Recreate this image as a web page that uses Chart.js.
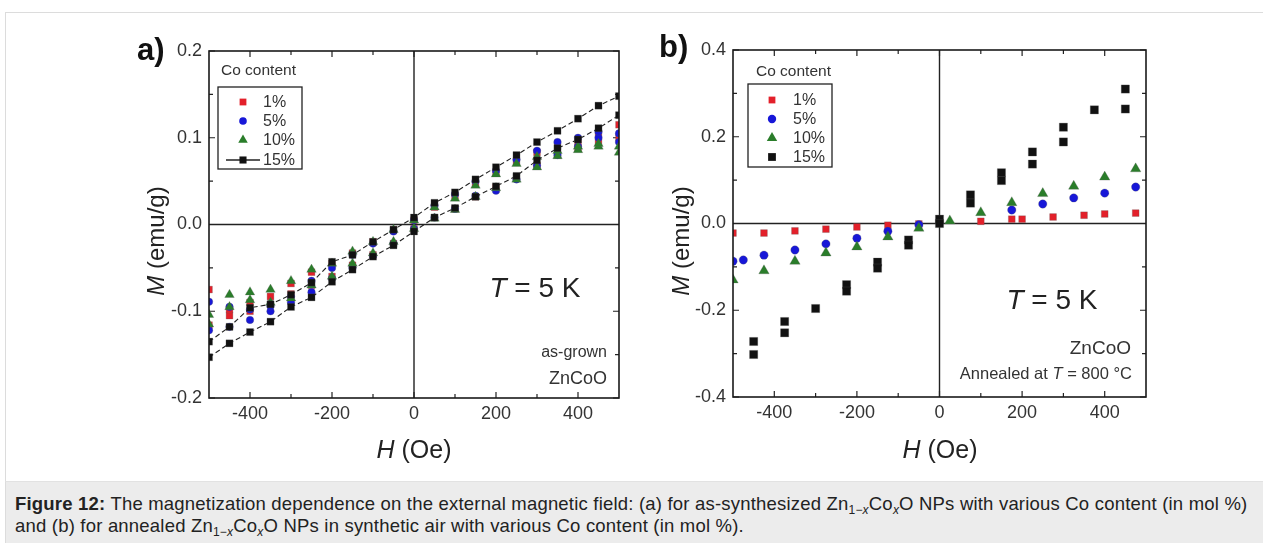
<!DOCTYPE html>
<html><head><meta charset="utf-8">
<script src="https://cdn.jsdelivr.net/npm/chart.js@4.4.0/dist/chart.umd.min.js"></script>
<style>
html,body{margin:0;padding:0;background:#fff;}
body{width:1263px;height:543px;position:relative;overflow:hidden;font-family:"Liberation Sans",Arial,sans-serif;color:#222;}
#frame{position:absolute;left:5px;top:12px;width:1270px;height:540px;border:1px solid #dcdcdc;}
#capbox{position:absolute;left:5px;top:481px;width:1270px;height:70px;background:#ececec;border-left:1px solid #dcdcdc;border-top:1px solid #e2e2e2;}
canvas{position:absolute;top:0;}
.t{position:absolute;white-space:nowrap;line-height:1;}
.rot{transform:translate(-50%,-50%) rotate(-90deg);}
.ctr{transform:translate(-50%,-50%);}
.rgt{transform:translate(-100%,-50%);}
sub{font-size:12px;vertical-align:-4px;line-height:0;}
</style></head><body>
<div id="frame"></div>
<div id="capbox"></div>
<canvas id="ca" width="640" height="470" style="left:0px;width:640px;height:470px"></canvas>
<canvas id="cb" width="623" height="470" style="left:640px;width:623px;height:470px"></canvas>

<div class="t" style="left:137px;top:34px;font-size:31px;font-weight:bold;color:#111">a)</div>
<div class="t" style="left:659px;top:31px;font-size:31px;font-weight:bold;color:#111">b)</div>

<div class="t rot" style="left:156px;top:241px;font-size:24px;color:#222"><i>M</i> (emu/g)</div>
<div class="t rot" style="left:681px;top:241px;font-size:24px;color:#222"><i>M</i> (emu/g)</div>
<div class="t ctr" style="left:414px;top:449px;font-size:25px;color:#222"><i>H</i> (Oe)</div>
<div class="t ctr" style="left:940px;top:449px;font-size:25px;color:#222"><i>H</i> (Oe)</div>

<div class="t ctr" style="left:535px;top:288px;font-size:28px;color:#222"><i>T</i> = 5 K</div>
<div class="t rgt" style="left:607px;top:352px;font-size:16px;color:#333">as-grown</div>
<div class="t rgt" style="left:607px;top:378px;font-size:18px;color:#333">ZnCoO</div>

<div class="t ctr" style="left:1052px;top:300px;font-size:28px;color:#222"><i>T</i> = 5 K</div>
<div class="t rgt" style="left:1131px;top:347px;font-size:19px;color:#333">ZnCoO</div>
<div class="t rgt" style="left:1132px;top:373px;font-size:16.5px;color:#333">Annealed at <i>T</i> = 800 °C</div>

<div class="t" style="left:15px;top:493px;font-size:18.5px;letter-spacing:0.2px;line-height:22px;color:#222">
<b>Figure 12:</b> The magnetization dependence on the external magnetic field: (a) for as-synthesized Zn<sub>1−<i>x</i></sub>Co<sub><i>x</i></sub>O NPs with various Co content (in mol %)<br>and (b) for annealed Zn<sub>1−<i>x</i></sub>Co<sub><i>x</i></sub>O NPs in synthetic air with various Co content (in mol %).
</div>

<script>
// ---------- DATA ----------
const SERIES_NAMES = ['1%', '5%', '10%', '15%'];
const LEGEND_TITLE = 'Co content';

// Panel a (as-grown): field values and two sweep branches per Co content
const H_A = [-500,-450,-400,-350,-300,-250,-200,-150,-100,-50,0,50,100,150,200,250,300,350,400,450,500];
const A1_UP  = [-0.075,-0.098,-0.090,-0.083,-0.068,-0.055,-0.045,-0.033,-0.020,-0.006,0.005,0.020,0.033,0.047,0.060,0.072,0.083,0.090,0.095,0.105,0.115];
const A1_DN  = [-0.116,-0.105,-0.100,-0.092,-0.080,-0.070,-0.060,-0.047,-0.035,-0.022,-0.005,0.008,0.018,0.032,0.043,0.055,0.068,0.080,0.088,0.095,0.100];
const A5_UP  = [-0.089,-0.095,-0.098,-0.094,-0.083,-0.065,-0.050,-0.035,-0.022,-0.008,0.005,0.022,0.035,0.050,0.062,0.075,0.085,0.095,0.100,0.107,0.105];
const A5_DN  = [-0.122,-0.118,-0.110,-0.100,-0.090,-0.078,-0.062,-0.050,-0.036,-0.022,-0.005,0.008,0.018,0.033,0.039,0.052,0.068,0.080,0.090,0.100,0.095];
const A10_UP = [-0.104,-0.081,-0.078,-0.075,-0.065,-0.052,-0.045,-0.031,-0.020,-0.006,0.005,0.020,0.030,0.045,0.058,0.070,0.078,0.085,0.090,0.093,0.090];
const A10_DN = [-0.115,-0.095,-0.087,-0.090,-0.085,-0.070,-0.060,-0.045,-0.033,-0.020,-0.005,0.007,0.017,0.032,0.042,0.052,0.066,0.079,0.086,0.090,0.083];
const A15_UP = [-0.135,-0.118,-0.096,-0.092,-0.081,-0.067,-0.043,-0.035,-0.020,-0.006,0.008,0.025,0.037,0.052,0.066,0.080,0.095,0.108,0.122,0.137,0.148];
const A15_DN = [-0.153,-0.137,-0.124,-0.112,-0.095,-0.084,-0.066,-0.052,-0.037,-0.024,-0.008,0.008,0.019,0.032,0.044,0.056,0.074,0.088,0.098,0.111,0.126];

// Panel b (annealed)
const B1_H  = [-500,-425,-350,-275,-200,-125,-50,100,175,200,275,350,400,475];
const B1_M  = [-0.022,-0.022,-0.017,-0.013,-0.008,-0.004,-0.001,0.005,0.010,0.010,0.015,0.019,0.022,0.024];
const B5_H  = [-500,-475,-425,-350,-275,-200,-125,-50,175,250,325,400,475];
const B5_M  = [-0.087,-0.084,-0.073,-0.061,-0.047,-0.034,-0.018,-0.003,0.031,0.045,0.059,0.070,0.084];
const B10_H = [-500,-425,-350,-275,-200,-125,-50,25,100,175,250,325,400,475];
const B10_M = [-0.130,-0.109,-0.087,-0.068,-0.054,-0.031,-0.011,0.006,0.025,0.048,0.069,0.086,0.107,0.126];
const B15_H = [-450,-450,-375,-375,-300,-225,-225,-150,-150,-75,-75,0,0,75,75,150,150,225,225,300,300,375,450,450];
const B15_M = [-0.272,-0.302,-0.226,-0.252,-0.196,-0.141,-0.156,-0.089,-0.103,-0.038,-0.050,0.010,0.000,0.066,0.047,0.117,0.099,0.165,0.137,0.222,0.188,0.262,0.310,0.264];

// Axis ticks
const X_TICKS = [-400,-200,0,200,400];
const X_MINOR = [-300,-100,100,300];
const Y_TICKS_A = [-0.2,-0.1,0.0,0.1,0.2];
const Y_MINOR_A = [-0.15,-0.05,0.05,0.15];
const Y_TICKS_B = [-0.4,-0.2,0.0,0.2,0.4];
const Y_MINOR_B = [-0.3,-0.1,0.1,0.3];

// ---------- STYLE ----------
const COLORS = ['#e3202a','#1717d8','#2a7d2a','#111111'];
const SHAPES = ['rect','circle','triangle','rect'];
const FONT = '"Liberation Sans", Arial, sans-serif';

function pts(xs, ys){ return xs.map((x,i)=>({x:x, y:ys[i]})); }

function ds(label, data, k, radius, order, line){
  return {
    label, data, order,
    pointStyle: SHAPES[k], pointRadius: radius, pointHoverRadius: radius,
    backgroundColor: COLORS[k], borderColor: line ? '#222' : COLORS[k],
    pointBorderColor: 'rgba(90,90,90,0.45)', pointBackgroundColor: COLORS[k], pointBorderWidth: 0.6,
    showLine: !!line, borderWidth: line ? 1.1 : 0, borderDash: line ? [5,3] : [],
    clip: 0
  };
}

const decoPlugin = {
  id: 'deco',
  beforeDatasetsDraw(chart, args, o){
    const {ctx, chartArea: a, scales: {x, y}} = chart;
    ctx.save();
    ctx.strokeStyle = '#222'; ctx.lineWidth = 1.4;
    const x0 = x.getPixelForValue(0), y0 = y.getPixelForValue(0);
    ctx.beginPath();
    ctx.moveTo(a.left, y0); ctx.lineTo(a.right, y0);
    ctx.moveTo(x0, a.top); ctx.lineTo(x0, a.bottom);
    ctx.stroke();
    ctx.lineWidth = 1.2;
    ctx.beginPath();
    const tick = (vals, len) => {
      vals.forEach(v => {
        const px = x.getPixelForValue(v);
        ctx.moveTo(px, a.bottom); ctx.lineTo(px, a.bottom - len);
        ctx.moveTo(px, a.top); ctx.lineTo(px, a.top + len);
      });
    };
    const ytick = (vals, len) => {
      vals.forEach(v => {
        const py = y.getPixelForValue(v);
        ctx.moveTo(a.left, py); ctx.lineTo(a.left + len, py);
        ctx.moveTo(a.right, py); ctx.lineTo(a.right - len, py);
      });
    };
    tick(X_TICKS, 6); tick(X_MINOR, 4);
    ytick(o.yMajor, 6); ytick(o.yMinor, 4);
    ctx.stroke();
    ctx.restore();
  },
  afterDatasetsDraw(chart){
    const {ctx, chartArea: a} = chart;
    ctx.save();
    ctx.strokeStyle = '#1a1a1a'; ctx.lineWidth = 1.6;
    ctx.strokeRect(a.left, a.top, a.right - a.left, a.bottom - a.top);
    ctx.restore();
  }
};

function drawMarker(ctx, shape, cx, cy, r, color){
  ctx.fillStyle = color;
  ctx.beginPath();
  if (shape === 'rect'){ const s = Math.SQRT1_2 * r; ctx.rect(cx - s, cy - s, 2*s, 2*s); }
  else if (shape === 'circle'){ ctx.arc(cx, cy, r, 0, Math.PI*2); }
  else { // triangle
    let rad = 0;
    ctx.moveTo(cx + Math.sin(rad)*r, cy - Math.cos(rad)*r); rad += 2*Math.PI/3;
    ctx.lineTo(cx + Math.sin(rad)*r, cy - Math.cos(rad)*r); rad += 2*Math.PI/3;
    ctx.lineTo(cx + Math.sin(rad)*r, cy - Math.cos(rad)*r);
    ctx.closePath();
  }
  ctx.fill();
}

const legendPlugin = {
  id: 'boxLegend',
  afterDraw(chart, args, o){
    const ctx = chart.ctx;
    ctx.save();
    ctx.fillStyle = '#333';
    ctx.font = '15.5px ' + FONT;
    ctx.textBaseline = 'middle'; ctx.textAlign = 'left';
    ctx.fillText(LEGEND_TITLE, o.titleX, o.titleY);
    ctx.strokeStyle = '#222'; ctx.lineWidth = 1.3;
    ctx.strokeRect(o.box[0], o.box[1], o.box[2]-o.box[0], o.box[3]-o.box[1]);
    SERIES_NAMES.forEach((name, k) => {
      const yy = o.rows[k];
      if (o.lineFor === k){
        ctx.strokeStyle = '#222'; ctx.lineWidth = 1.3;
        ctx.beginPath(); ctx.moveTo(o.markerX - 17, yy); ctx.lineTo(o.markerX + 17, yy); ctx.stroke();
      }
      drawMarker(ctx, SHAPES[k], o.markerX, yy, o.radius[k], COLORS[k]);
      ctx.fillStyle = '#333';
      ctx.font = '16px ' + FONT;
      ctx.fillText(name, o.textX, yy + 1);
    });
    ctx.restore();
  }
};

function scalesFor(yMin, yMax, yTicks, yWidth, xHeight, yPad){
  return {
    x: {
      type: 'linear', min: -500, max: 500,
      afterBuildTicks: s => { s.ticks = X_TICKS.map(v => ({value: v})); },
      ticks: { font: {family: FONT, size: 18}, color: '#333', padding: 5, maxRotation: 0, callback: v => String(v) },
      grid: { display: false, drawTicks: false }, border: { display: false },
      afterFit: s => { s.height = xHeight; }
    },
    y: {
      type: 'linear', min: yMin, max: yMax,
      afterBuildTicks: s => { s.ticks = yTicks.map(v => ({value: v})); },
      ticks: { font: {family: FONT, size: 18}, color: '#333', padding: yPad, callback: v => Number(v).toFixed(1) },
      grid: { display: false, drawTicks: false }, border: { display: false },
      afterFit: s => { s.width = yWidth; }
    }
  };
}

Chart.defaults.font.family = FONT;

new Chart(document.getElementById('ca'), {
  type: 'scatter',
  data: { datasets: [
    ds('15%', pts(H_A, A15_UP), 3, 5, 0, true),
    ds('15%', pts(H_A, A15_DN), 3, 5, 0, true),
    ds('10%', pts(H_A, A10_UP), 2, 5.5, 1, false),
    ds('10%', pts(H_A, A10_DN), 2, 5.5, 1, false),
    ds('5%',  pts(H_A, A5_UP),  1, 3.8, 2, false),
    ds('5%',  pts(H_A, A5_DN),  1, 3.8, 2, false),
    ds('1%',  pts(H_A, A1_UP),  0, 4.8, 3, false),
    ds('1%',  pts(H_A, A1_DN),  0, 4.8, 3, false)
  ]},
  options: {
    responsive: false, animation: false, devicePixelRatio: 1,
    layout: { padding: { left: 0, top: 51, right: 21, bottom: 0 } },
    scales: scalesFor(-0.2, 0.2, Y_TICKS_A, 209, 72, 7),
    plugins: {
      legend: { display: false }, tooltip: { enabled: false },
      deco: { yMajor: Y_TICKS_A, yMinor: Y_MINOR_A },
      boxLegend: { titleX: 221, titleY: 71, box: [218, 87, 302, 169], rows: [102, 121, 140, 160], markerX: 243, textX: 263, radius: [4.8, 3.8, 5.5, 5], lineFor: 3 }
    }
  },
  plugins: [decoPlugin, legendPlugin]
});

new Chart(document.getElementById('cb'), {
  type: 'scatter',
  data: { datasets: [
    ds('15%', pts(B15_H, B15_M), 3, 5.8, 0, false),
    ds('10%', pts(B10_H, B10_M), 2, 6, 1, false),
    ds('5%',  pts(B5_H, B5_M),   1, 4.2, 2, false),
    ds('1%',  pts(B1_H, B1_M),   0, 4.8, 3, false)
  ]},
  options: {
    responsive: false, animation: false, devicePixelRatio: 1,
    layout: { padding: { left: 0, top: 50, right: 117, bottom: 0 } },
    scales: scalesFor(-0.4, 0.4, Y_TICKS_B, 93, 73, 7),
    plugins: {
      legend: { display: false }, tooltip: { enabled: false },
      deco: { yMajor: Y_TICKS_B, yMinor: Y_MINOR_B },
      boxLegend: { titleX: 116, titleY: 72, box: [108, 84, 192, 167], rows: [100, 119, 138, 157], markerX: 132, textX: 153, radius: [4.8, 4.2, 6, 5.5], lineFor: -1 }
    }
  },
  plugins: [decoPlugin, legendPlugin]
});
</script>
</body></html>
